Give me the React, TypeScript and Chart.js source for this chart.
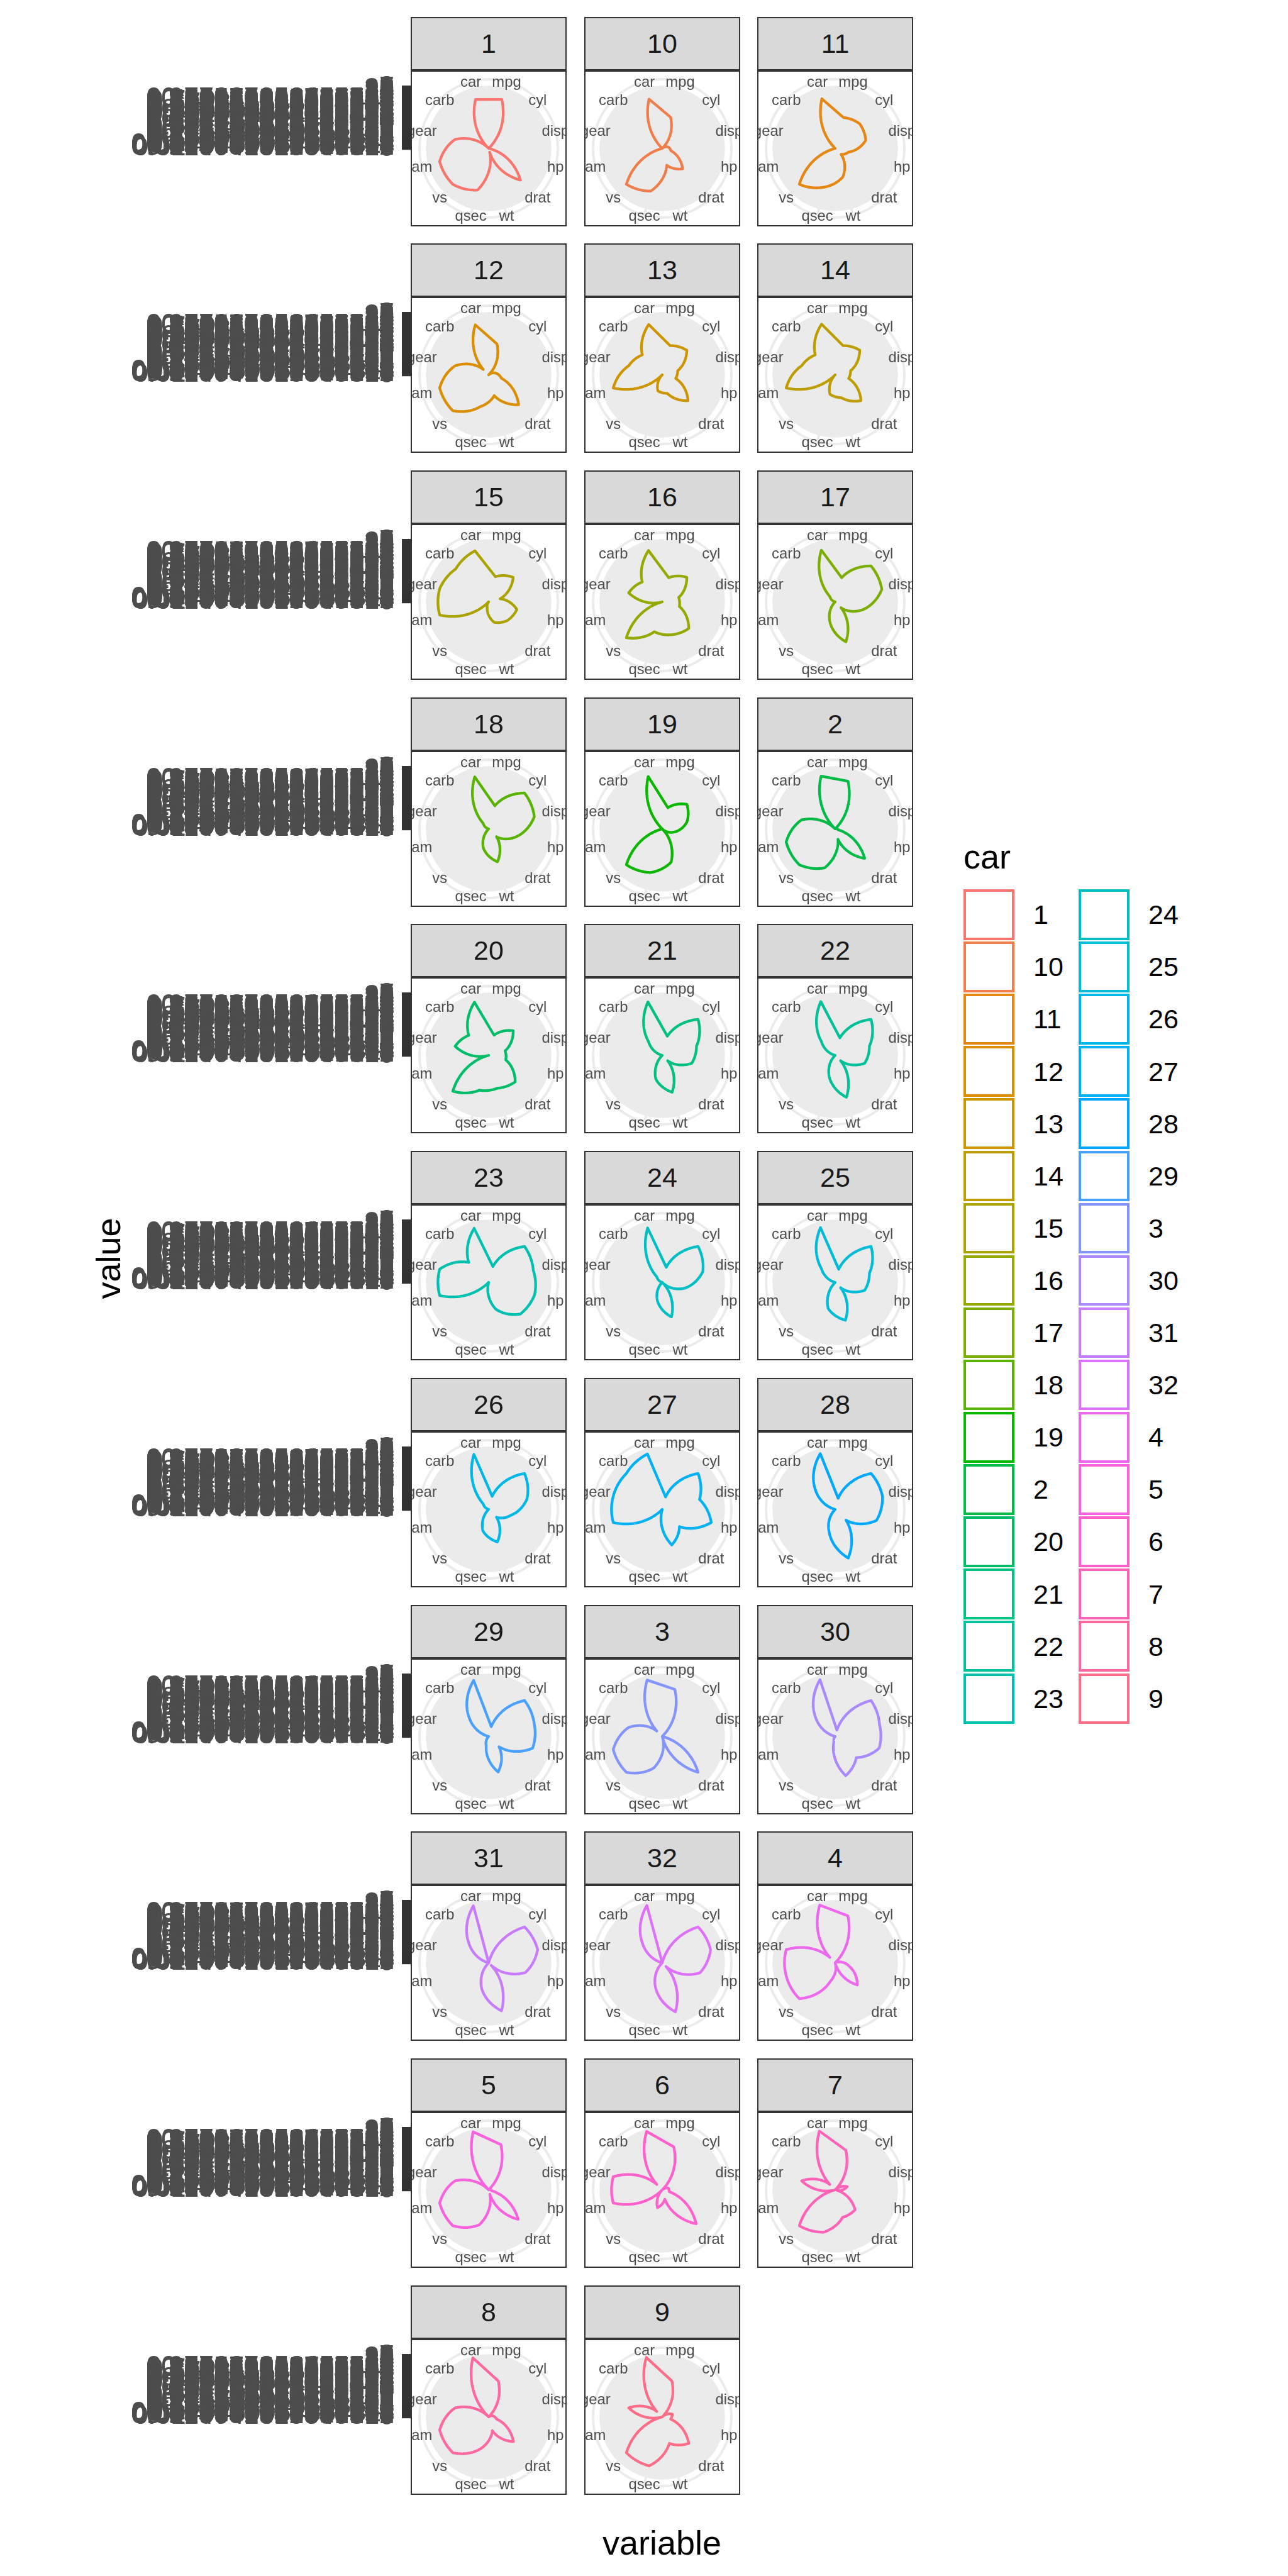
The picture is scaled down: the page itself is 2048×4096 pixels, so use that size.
import React, { useEffect, useRef } from 'react';
import { Chart, registerables } from 'chart.js';

Chart.register(...registerables);

const FONT = '"Liberation Sans", Arial, Helvetica, sans-serif';

// mtcars, rows in order of decreasing mpg; the car id is the row position (1..32)
const mpg = [33.9, 32.4, 30.4, 30.4, 27.3, 26, 24.4, 22.8, 22.8, 21.5, 21.4, 21.4, 21, 21, 19.7, 19.2, 19.2, 18.7, 18.1, 17.8, 17.3, 16.4, 15.8, 15.5, 15.2, 15.2, 15, 14.7, 14.3, 13.3, 10.4, 10.4];
const cyl = [4, 4, 4, 4, 4, 4, 4, 4, 4, 4, 6, 4, 6, 6, 6, 6, 8, 8, 6, 6, 8, 8, 8, 8, 8, 8, 8, 8, 8, 8, 8, 8];
const disp = [71.1, 78.7, 75.7, 95.1, 79, 120.3, 146.7, 108, 140.8, 120.1, 258, 121, 160, 160, 145, 167.6, 400, 360, 225, 167.6, 275.8, 275.8, 351, 318, 275.8, 304, 301, 440, 360, 350, 472, 460];
const hp = [65, 66, 52, 113, 66, 91, 62, 93, 95, 97, 110, 109, 110, 110, 175, 123, 175, 175, 105, 123, 180, 180, 264, 150, 180, 150, 335, 230, 245, 245, 205, 215];
const drat = [4.22, 4.08, 4.93, 3.77, 4.08, 4.43, 3.69, 3.85, 3.92, 3.7, 3.08, 4.11, 3.9, 3.9, 3.62, 3.92, 3.08, 3.15, 2.76, 3.92, 3.07, 3.07, 4.22, 2.76, 3.07, 3.15, 3.54, 3.23, 3.21, 3.73, 2.93, 3];
const wt = [1.835, 2.2, 1.615, 1.513, 1.935, 2.14, 3.19, 2.32, 3.15, 2.465, 3.215, 2.78, 2.62, 2.875, 2.77, 3.44, 3.845, 3.44, 3.46, 3.44, 3.73, 4.07, 3.17, 3.52, 3.78, 3.435, 3.57, 5.345, 3.57, 3.84, 5.25, 5.424];
const qsec = [19.9, 19.47, 18.52, 16.9, 18.9, 16.7, 20, 18.61, 22.9, 20.01, 19.44, 18.6, 16.46, 17.02, 15.5, 18.3, 17.05, 17.02, 20.22, 18.9, 17.6, 17.4, 14.5, 16.87, 18, 17.3, 14.6, 17.42, 15.84, 15.41, 17.98, 17.82];
const vs = [1, 1, 1, 1, 1, 0, 1, 1, 1, 1, 1, 1, 0, 0, 0, 1, 0, 0, 1, 1, 0, 0, 0, 0, 0, 0, 0, 0, 0, 0, 0, 0];
const am = [1, 1, 1, 1, 1, 1, 0, 1, 0, 0, 0, 1, 1, 1, 1, 0, 0, 0, 0, 0, 0, 0, 1, 0, 0, 0, 1, 0, 0, 0, 0, 0];
const gear = [4, 4, 4, 5, 4, 5, 4, 4, 4, 3, 3, 4, 4, 4, 5, 4, 3, 3, 3, 4, 3, 3, 5, 3, 3, 3, 5, 3, 3, 3, 3, 3];
const carb = [1, 1, 2, 2, 1, 2, 2, 1, 2, 1, 1, 2, 4, 4, 6, 4, 2, 2, 1, 4, 3, 3, 4, 2, 3, 2, 8, 4, 4, 4, 4, 4];

// theta categories (clockwise, starting just right of the top)
const variables = ['mpg', 'cyl', 'disp', 'hp', 'drat', 'wt', 'qsec', 'vs', 'am', 'gear', 'carb', 'car'];
const carIds = mpg.map((_, i) => String(i + 1));

// ---- table the library needs: every value as text (min-max rescaled, 15 significant digits), sorted as text
const measures: Record<string, number[]> = { mpg, cyl, disp, hp, drat, wt, qsec, vs, am, gear, carb };
const asText = (v: number) => String(Number(v.toPrecision(15)));
const valueText: Record<string, string[]> = {};
Object.keys(measures).forEach((k) => {
  const a = measures[k];
  const lo = Math.min(...a);
  const hi = Math.max(...a);
  valueText[k] = a.map((x) => asText((x - lo) / (hi - lo)));
});
valueText.car = carIds;
const levels: string[] = Array.from(new Set(variables.flatMap((v) => valueText[v]))).sort();
const levelIndex = new Map<string, number>(levels.map((s, i) => [s, i]));
const TOP = levels.length - 1;
const R_MAX = TOP * 1.125; // outer ring at 0.45 vs data at 0.40
const facetCars = [...carIds].sort();

// ---- colours (hue palette, l = 65, c = 100)
function hcl(h: number, c: number, l: number) {
  const WY = 100, Wu = 0.1978398, Wv = 0.4683363;
  const hr = (h * Math.PI) / 180;
  const U = c * Math.cos(hr), V = c * Math.sin(hr);
  const Y = WY * (l > 7.999592 ? Math.pow((l + 16) / 116, 3) : l / 903.3);
  const u = U / (13 * l) + Wu;
  const v = V / (13 * l) + Wv;
  const X = (9.0 * Y * u) / (4 * v);
  const Z = -X / 3 - 5 * Y + (3 * Y) / v;
  const g = (t: number) => (t > 0.00304 ? 1.055 * Math.pow(t, 1 / 2.4) - 0.055 : 12.92 * t);
  const ch = (t: number) => Math.round(255 * Math.min(1, Math.max(0, g(t))));
  const r = ch((3.240479 * X - 1.53715 * Y - 0.498535 * Z) / WY);
  const gg = ch((-0.969256 * X + 1.875992 * Y + 0.041556 * Z) / WY);
  const b = ch((0.055648 * X - 0.204043 * Y + 1.057311 * Z) / WY);
  return `rgb(${r},${gg},${b})`;
}
const palette = facetCars.map((_, i) => hcl(15 + (i * 360) / 32, 100, 65));

// ---- layout (px)
const COL_X = [653, 928.7, 1204.4];
const ROW_Y0 = 26.6;
const ROW_PITCH = 360.7;
const PANEL_W = 248;
const STRIP_H = 85;
const PLOT_H = 248;
const INNER = 244;
const AXIS_RIGHT = 653;
const THETA_FONT = 23.8;

const polarPathPlugin = {
  id: 'polarPath',
  afterDatasetsDraw(chart: any, _args: any, opts: any) {
    const scale = chart.scales.r;
    const ctx = chart.ctx as CanvasRenderingContext2D;
    const data = chart.data.datasets[0].data as number[];
    const STEPS = 40;
    ctx.save();
    ctx.beginPath();
    for (let i = 0; i < data.length - 1; i++) {
      for (let s = i === 0 ? 0 : 1; s <= STEPS; s++) {
        const t = s / STEPS;
        const p = scale.getPointPositionForValue(i + t, data[i] + (data[i + 1] - data[i]) * t);
        if (i === 0 && s === 0) ctx.moveTo(p.x, p.y);
        else ctx.lineTo(p.x, p.y);
      }
    }
    ctx.closePath();
    ctx.strokeStyle = opts.color;
    ctx.lineWidth = 4.3;
    ctx.lineJoin = 'round';
    ctx.lineCap = 'round';
    ctx.stroke();
    ctx.fillStyle = '#4D4D4D';
    ctx.font = `${THETA_FONT}px ${FONT}`;
    ctx.textAlign = 'center';
    ctx.textBaseline = 'alphabetic';
    (chart.data.labels as string[]).forEach((lab, i) => {
      const p = scale.getPointPositionForValue(i, scale.max);
      ctx.fillText(lab, p.x, p.y + 0.36 * THETA_FONT);
    });
    ctx.restore();
  },
};

function Txt(props: { x: number; base: number; size: number; text: string; color?: string; align?: 'left' | 'center' }) {
  const { x, base, size, text, color = '#000000', align = 'left' } = props;
  return (
    <div
      style={{
        position: 'absolute',
        left: x,
        top: base - 0.8465 * size,
        fontFamily: FONT,
        fontSize: size,
        lineHeight: `${size}px`,
        color,
        whiteSpace: 'nowrap',
        transform: align === 'center' ? 'translateX(-50%)' : undefined,
      }}
    >
      {text}
    </div>
  );
}

function RadarPanel({ car, color, left, top }: { car: string; color: string; left: number; top: number }) {
  const ref = useRef<HTMLCanvasElement>(null);
  useEffect(() => {
    const row = Number(car) - 1;
    const values = variables.map((v) => levelIndex.get(valueText[v][row]) as number);
    const chart = new Chart(ref.current as HTMLCanvasElement, {
      type: 'radar',
      data: {
        labels: variables,
        datasets: [
          {
            label: car,
            data: values,
            showLine: false,
            pointRadius: 0,
            pointHoverRadius: 0,
            borderWidth: 0,
            borderColor: color,
            backgroundColor: 'rgba(0,0,0,0)',
            fill: false,
          } as any,
        ],
      },
      options: {
        responsive: false,
        animation: false,
        events: [],
        layout: { padding: 12 },
        plugins: {
          legend: { display: false },
          tooltip: { enabled: false },
          polarPath: { color },
        } as any,
        scales: {
          r: {
            min: 0,
            max: R_MAX,
            startAngle: 15,
            ticks: { display: false, stepSize: 1 },
            grid: {
              circular: true,
              lineWidth: 3.9,
              color: (c: any) =>
                c.tick && (c.tick.value <= TOP + 1e-9 || Math.abs(c.tick.value - R_MAX) < 1e-6) ? '#EBEBEB' : 'rgba(0,0,0,0)',
            },
            angleLines: { display: true, color: '#EBEBEB', lineWidth: 3.9 },
            pointLabels: { display: false },
          },
        } as any,
      },
      plugins: [polarPathPlugin as any],
    });
    return () => chart.destroy();
  }, [car, color]);
  return (
    <>
      <div
        style={{
          position: 'absolute',
          left,
          top,
          width: PANEL_W,
          height: STRIP_H,
          boxSizing: 'border-box',
          background: '#D9D9D9',
          border: '2px solid #333333',
        }}
      />
      <Txt x={left + PANEL_W / 2} base={top + STRIP_H / 2 + 0.358 * 43} size={43} text={car} color="#1A1A1A" align="center" />
      <div
        style={{
          position: 'absolute',
          left,
          top: top + STRIP_H,
          width: PANEL_W,
          height: PLOT_H,
          boxSizing: 'border-box',
          border: '2px solid #333333',
        }}
      >
        <canvas ref={ref} width={INNER} height={INNER} style={{ display: 'block', width: INNER, height: INNER }} />
      </div>
    </>
  );
}

function YAxisRow({ top }: { top: number }) {
  const ref = useRef<HTMLCanvasElement>(null);
  useEffect(() => {
    const chart = new Chart(ref.current as HTMLCanvasElement, {
      type: 'line',
      data: { labels: [], datasets: [] },
      options: {
        responsive: false,
        animation: false,
        events: [],
        layout: { padding: { top: 50, bottom: 50, left: 0, right: 0 } },
        plugins: { legend: { display: false }, tooltip: { enabled: false } },
        scales: {
          x: { display: false },
          y: {
            type: 'category',
            labels: levels,
            reverse: true,
            position: 'left',
            offset: false,
            afterFit: (s: any) => {
              s.width = AXIS_RIGHT;
            },
            border: { display: false },
            grid: {
              drawOnChartArea: false,
              drawTicks: true,
              tickLength: 14,
              tickWidth: 4.2,
              tickColor: '#333333',
              lineWidth: 4.2,
              color: '#333333',
            },
            ticks: { autoSkip: false, padding: 12, color: '#4D4D4D', font: { family: FONT, size: 43 } },
          },
        } as any,
      },
    });
    return () => chart.destroy();
  }, []);
  return (
    <canvas
      ref={ref}
      width={680}
      height={198}
      style={{ position: 'absolute', left: 0, top, width: 680, height: 198, display: 'block' }}
    />
  );
}

export default function App() {
  const nRows = Math.ceil(facetCars.length / 3);
  const rowTops = Array.from({ length: nRows }, (_, r) => Math.round(ROW_Y0 + r * ROW_PITCH));
  const legendTop = 1414;
  const legendPitch = 83.1;
  const keySize = 80.6;
  return (
    <div style={{ position: 'absolute', left: 0, top: 0, width: 2048, height: 4096, background: '#FFFFFF', overflow: 'hidden' }}>
      {rowTops.map((py, r) => (
        <YAxisRow key={`y${r}`} top={py + 209 - 148} />
      ))}
      {facetCars.map((car, k) => {
        const r = Math.floor(k / 3);
        const c = k % 3;
        return <RadarPanel key={car} car={car} color={palette[k]} left={Math.round(COL_X[c])} top={rowTops[r]} />;
      })}
      {/* axis titles */}
      <div
        style={{ position: 'absolute', left: 191, top: 2001, width: 0, height: 0, transformOrigin: '0 0', transform: 'rotate(-90deg)' }}
      >
        <div
          style={{
            position: 'absolute',
            left: 0,
            top: -0.8465 * 54,
            fontFamily: FONT,
            fontSize: 54,
            lineHeight: '54px',
            whiteSpace: 'nowrap',
            transform: 'translateX(-50%)',
            color: '#000000',
          }}
        >
          value
        </div>
      </div>
      <Txt x={1052.5} base={4062} size={54} text="variable" align="center" />
      {/* legend */}
      <Txt x={1532} base={1381} size={54} text="car" />
      {facetCars.map((car, k) => {
        const col = Math.floor(k / 16);
        const row = k % 16;
        const bx = col === 0 ? 1532 : 1715;
        const by = legendTop + row * legendPitch;
        return (
          <React.Fragment key={`lg${car}`}>
            <div
              style={{
                position: 'absolute',
                left: bx,
                top: by,
                width: keySize,
                height: keySize,
                boxSizing: 'border-box',
                border: `4px solid ${palette[k]}`,
                background: '#FFFFFF',
              }}
            />
            <Txt x={bx + 111} base={by + keySize / 2 + 0.358 * 43} size={43} text={car} />
          </React.Fragment>
        );
      })}
    </div>
  );
}
